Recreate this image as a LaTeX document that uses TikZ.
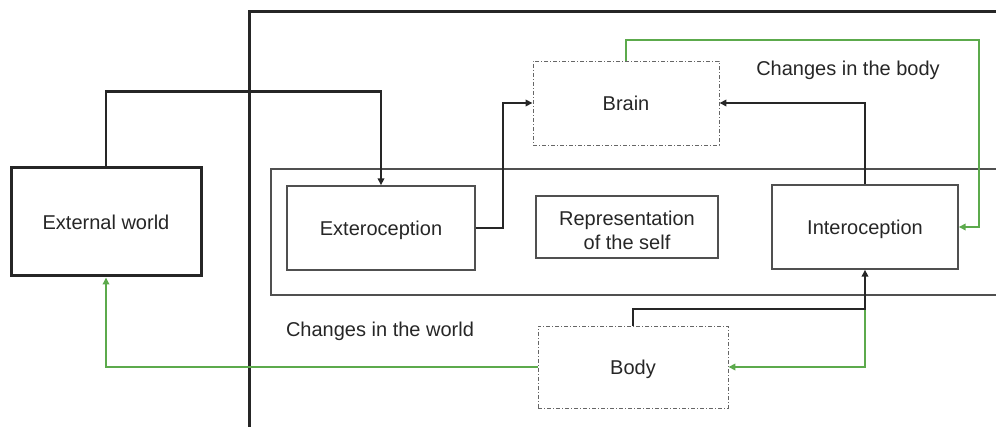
\documentclass[tikz,border=0pt]{standalone}
\usepackage{fontspec}
\setmainfont{Liberation Sans}
\usetikzlibrary{arrows.meta}
\definecolor{linkgreen}{RGB}{92,170,76}
\definecolor{boxgray}{RGB}{80,80,80}
\tikzset{
  txt/.style={font=\fontsize{20}{24}\selectfont, text=black!85, align=center},
  onetxt/.style={txt, text height=14.4pt, text depth=0pt},
  thinbox/.style={draw=boxgray, line width=1.4pt, rectangle, inner sep=0pt},
  thickbox/.style={draw=black!85, line width=3pt, rectangle, inner sep=0pt},
  dashbox/.style={draw=black!60, line width=0.9pt, dash pattern=on 4pt off 2pt on 1pt off 2pt, rectangle, inner sep=0pt},
  blk/.style={draw=black!85, line width=2.4pt, -{Triangle[length=7pt,width=6.5pt]}},
  grn/.style={draw=linkgreen, line width=1.8pt, -{Triangle[length=7pt,width=6.5pt]}},
  frame/.style={draw=black!85, line width=3pt},
}
\begin{document}
\begin{tikzpicture}[x=1pt,y=-1pt]
\useasboundingbox (0,0) rectangle (996,427);
% outer frame
\draw[frame] (997,12) -- (249,12) -- (249,428);
% inner region
\draw[draw=boxgray, line width=1.4pt] (997,169) -- (271,169) -- (271,295) -- (997,295);
% nodes
\node[thickbox, onetxt, minimum width=190pt, minimum height=108pt] (ext) at (106,222) {External world};
\node[thinbox, onetxt, minimum width=188pt, minimum height=84pt] (extero) at (381,228) {Exteroception};
\node[thinbox, txt, text height=44.5pt, text depth=0pt, minimum width=182pt, minimum height=62pt] (rep) at (627,227) {Representation\\of the self};
\node[thinbox, onetxt, minimum width=186pt, minimum height=84pt] (intero) at (865,227) {Interoception};
\node[dashbox, onetxt, minimum width=186pt, minimum height=84pt] (brain) at (626,103) {Brain};
\node[dashbox, onetxt, minimum width=190pt, minimum height=82pt] (body) at (633,367) {Body};
\node[onetxt] (lbody) at (848,68) {Changes in the body};
\node[onetxt] (lworld) at (380,329) {Changes in the world};
\coordinate (gtr) at (979,40);
\coordinate (j) at (865,309);
% connectors
\draw[blk] (ext.north) -- ++(0,-75) -| (extero.north);
\draw[blk] (extero.east) -- ++(27,0) |- (brain.west);
\draw[blk] (intero.north) |- (brain.east);
\draw[grn] (brain.north) |- (gtr) |- (intero.east);
\draw[grn] (j) |- (body.east);
\draw[blk] (body.north) |- (j) -- (intero.south);
\draw[grn] (body.west) -| (ext.south);
\end{tikzpicture}
\end{document}
